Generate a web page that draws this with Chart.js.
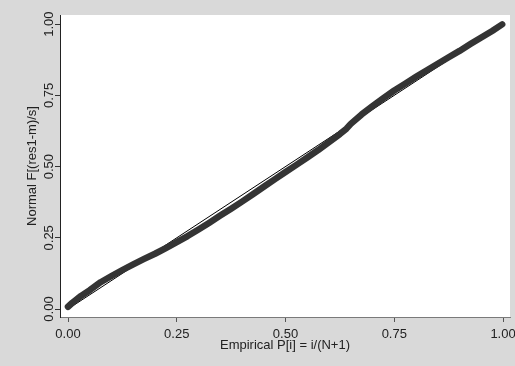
<!DOCTYPE html>
<html>
<head>
<meta charset="utf-8">
<script src="https://cdn.jsdelivr.net/npm/chart.js@4/dist/chart.umd.min.js"></script>
<style>
  html, body { margin: 0; padding: 0; background: #d9d9d9; }
  #wrap { width: 515px; height: 366px; }
</style>
</head>
<body>
<div id="wrap"><canvas id="myChart" width="515" height="366"></canvas></div>
<script>
// empirical probabilities P[i] = i/(N+1)
const empiricalP = [0.000, 0.010, 0.030, 0.050, 0.075, 0.100, 0.125, 0.150, 0.175, 0.200,
  0.225, 0.250, 0.275, 0.300, 0.325, 0.350, 0.375, 0.400, 0.425, 0.450,
  0.475, 0.500, 0.525, 0.550, 0.575, 0.600, 0.625, 0.640, 0.650, 0.675,
  0.700, 0.725, 0.750, 0.775, 0.800, 0.825, 0.850, 0.875, 0.900, 0.925,
  0.950, 0.975, 0.998];
// normal F[(res1-m)/s]
const normalF = [0.008, 0.022, 0.046, 0.066, 0.094, 0.116, 0.137, 0.157, 0.176, 0.194,
  0.214, 0.235, 0.256, 0.279, 0.303, 0.328, 0.352, 0.377, 0.403, 0.429,
  0.455, 0.481, 0.506, 0.532, 0.558, 0.586, 0.614, 0.633, 0.650, 0.683,
  0.712, 0.740, 0.767, 0.791, 0.815, 0.838, 0.861, 0.884, 0.906, 0.930,
  0.953, 0.976, 0.999];
const diagX = [0, 1];
const diagY = [0, 1];
const tickValues = [0, 0.25, 0.5, 0.75, 1];
const xTitle = 'Empirical P[i] = i/(N+1)';
const yTitle = 'Normal F[(res1-m)/s]';

const FONT = '"Liberation Sans", Arial, sans-serif';

// fond gris + zone de tracé blanche, étiquettes verticales de l'axe y
const plotBg = {
  id: 'plotBg',
  beforeDraw(chart) {
    const { ctx, chartArea: a } = chart;
    ctx.save();
    ctx.fillStyle = '#d9d9d9';
    ctx.fillRect(0, 0, chart.width, chart.height);
    ctx.fillStyle = '#ffffff';
    ctx.fillRect(a.left, a.top, a.right - a.left, a.bottom - a.top);
    ctx.restore();
  },
  afterDraw(chart) {
    const { ctx, chartArea: a } = chart;
    const y = chart.scales.y;
    ctx.save();
    ctx.fillStyle = '#222';
    ctx.font = '13px ' + FONT;
    ctx.textAlign = 'center';
    ctx.textBaseline = 'alphabetic';
    tickValues.forEach(v => {
      ctx.save();
      ctx.translate(53, y.getPixelForValue(v));
      ctx.rotate(-Math.PI / 2);
      ctx.fillText(v.toFixed(2), 0, 0);
      ctx.restore();
    });
    ctx.save();
    ctx.translate(36, (a.top + a.bottom) / 2);
    ctx.rotate(-Math.PI / 2);
    ctx.fillText(yTitle, 0, 0);
    ctx.restore();
    ctx.fillText(xTitle, (a.left + a.right) / 2, 349);
    ctx.restore();
  }
};

const ctx = document.getElementById('myChart').getContext('2d');
const myChart = new Chart(ctx, {
  type: 'scatter',
  data: {
    datasets: [{
      label: 'P-P',
      data: empiricalP.map((p, i) => ({ x: p, y: normalF[i] })),
      showLine: true,
      borderColor: '#343434',
      borderWidth: 6.5,
      borderCapStyle: 'round',
      borderJoinStyle: 'round',
      pointRadius: 0,
      tension: 0
    }, {
      label: 'diagonal',
      data: diagX.map((x, i) => ({ x: x, y: diagY[i] })),
      showLine: true,
      borderColor: '#000',
      borderWidth: 1,
      pointRadius: 0
    }]
  },
  options: {
    responsive: false,
    animation: false,
    events: [],
    layout: { padding: { top: 15, right: 5, left: 0, bottom: 0 } },
    plugins: { legend: { display: false }, tooltip: { enabled: false } },
    scales: {
      x: {
        type: 'linear',
        min: -0.0184,
        max: 1.016,
        afterBuildTicks: s => { s.ticks = tickValues.map(v => ({ value: v })); },
        afterFit: s => { s.height = 49; s.paddingRight = 0; s.paddingLeft = 0; },
        border: { display: true, color: '#7a7a7a', width: 1 },
        grid: { drawOnChartArea: false, drawTicks: true, tickLength: 5, color: '#555' },
        ticks: {
          padding: 5,
          maxRotation: 0,
          color: '#222',
          font: { family: FONT, size: 13 },
          callback: v => Number(v).toFixed(2)
        },
        title: { display: false }
      },
      y: {
        type: 'linear',
        min: -0.028,
        max: 1.032,
        afterBuildTicks: s => { s.ticks = tickValues.map(v => ({ value: v })); },
        afterFit: s => { s.width = 60; s.paddingTop = 0; s.paddingBottom = 0; },
        border: { display: true, color: '#222', width: 1 },
        grid: { drawOnChartArea: false, drawTicks: true, tickLength: 5, color: '#333' },
        ticks: { display: false },
        title: { display: false }
      }
    }
  },
  plugins: [plotBg]
});
</script>
</body>
</html>
